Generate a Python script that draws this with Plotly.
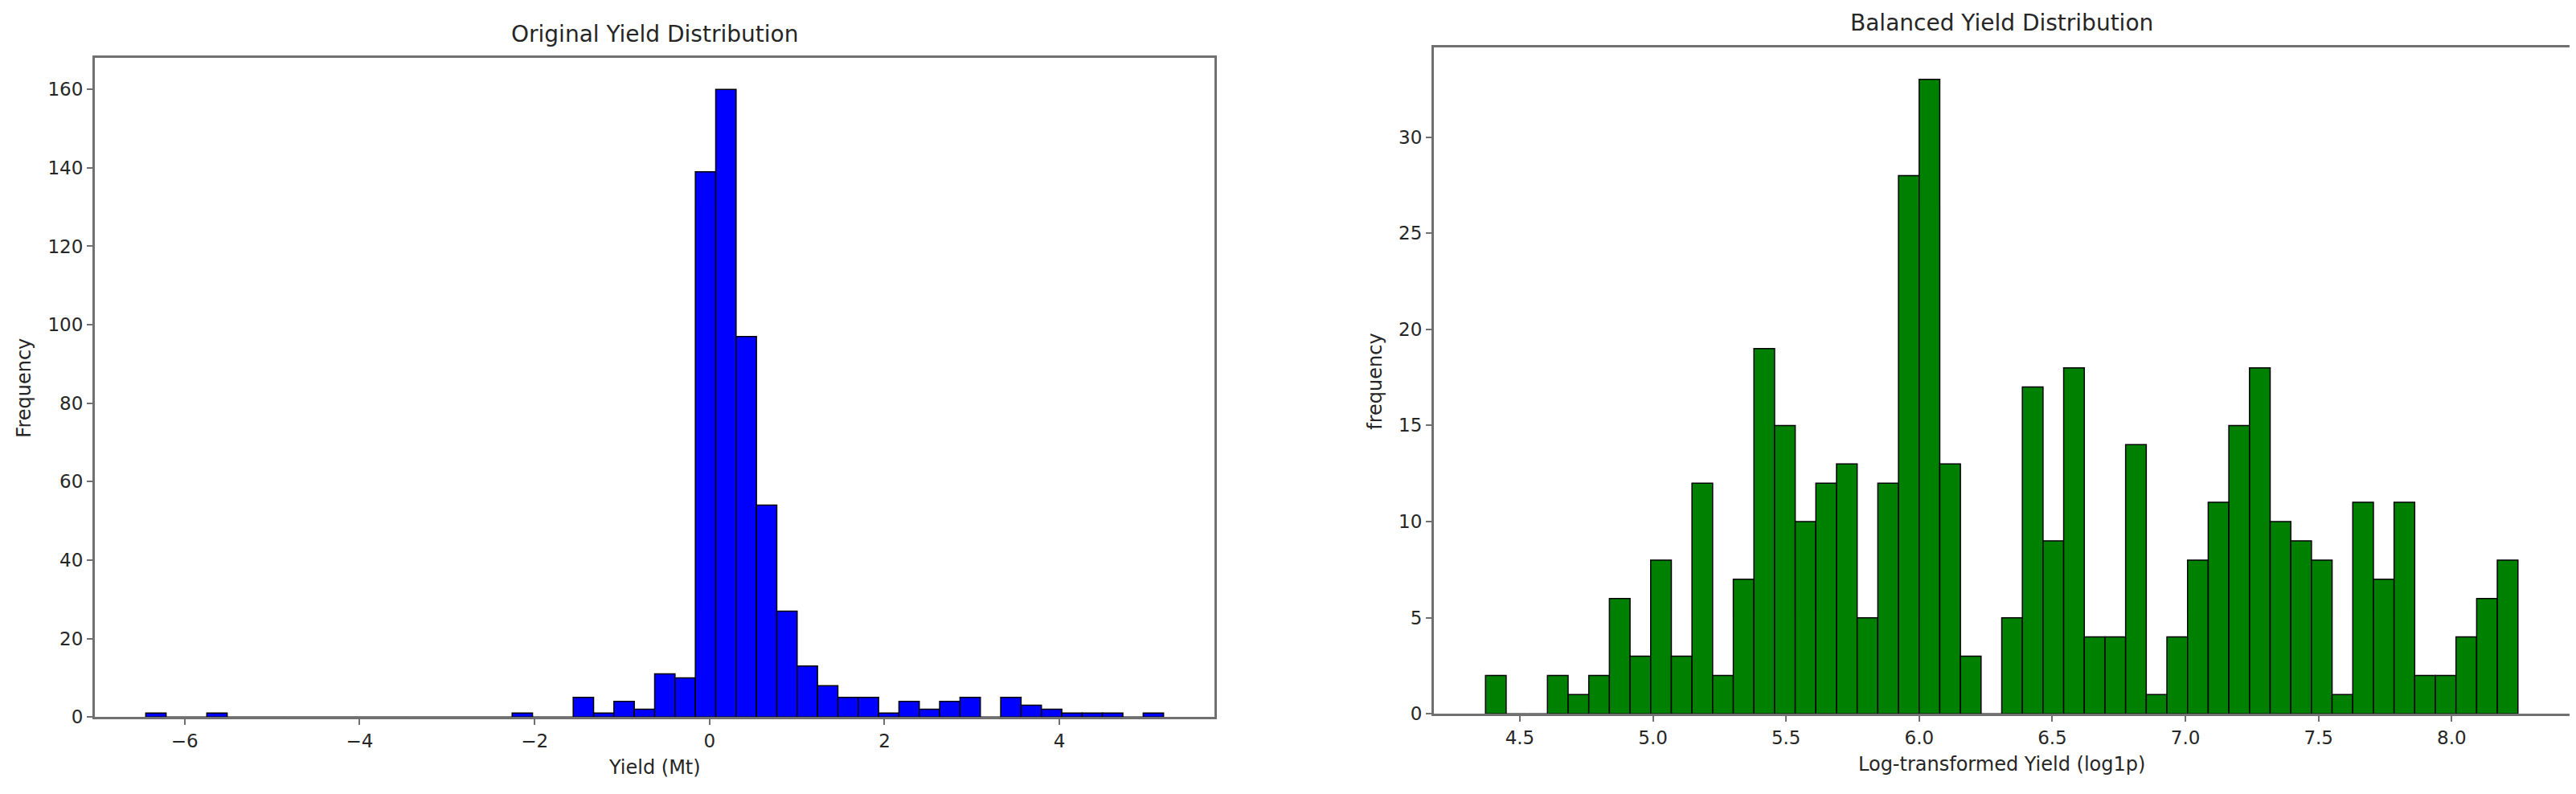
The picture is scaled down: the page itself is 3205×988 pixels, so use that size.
import numpy as np
import plotly.graph_objects as go

# histogram counts (50 bins each)
yield_min = -6.445
yield_max = 5.19
yield_counts = [1, 0, 0, 1, 0, 0, 0, 0, 0, 0, 0, 0, 0, 0, 0, 0, 0, 0, 1, 0,
                0, 5, 1, 4, 2, 11, 10, 139, 160, 97, 54, 27, 13, 8, 5, 5, 1, 4, 2, 4,
                5, 0, 5, 3, 2, 1, 1, 1, 0, 1]

log_min = 4.371
log_max = 8.249
log_counts = [2, 0, 0, 2, 1, 2, 6, 3, 8, 3, 12, 2, 7, 19, 15, 10, 12, 13, 5, 12,
              28, 33, 13, 3, 0, 5, 17, 9, 18, 4, 4, 14, 1, 4, 8, 11, 15, 18, 10, 9,
              8, 1, 11, 7, 11, 2, 2, 4, 6, 8]

left_xticks = [-6, -4, -2, 0, 2, 4]
left_yticks = [0, 20, 40, 60, 80, 100, 120, 140, 160]
right_xticks = [4.5, 5.0, 5.5, 6.0, 6.5, 7.0, 7.5, 8.0]
right_yticks = [0, 5, 10, 15, 20, 25, 30]

W, H = 3205, 988
FONT = 'DejaVu Sans'
TXT = '#262626'
SPINE = '#707070'


def bins(lo, hi, counts):
    edges = np.linspace(lo, hi, len(counts) + 1)
    return (edges[:-1] + edges[1:]) / 2, edges[1] - edges[0]


def px_x(p):
    return p / W


def px_y(p):
    return 1 - p / H


x1, w1 = bins(yield_min, yield_max, yield_counts)
x2, w2 = bins(log_min, log_max, log_counts)

fig = go.Figure()
fig.add_trace(go.Bar(x=x1, y=yield_counts, width=w1, xaxis='x', yaxis='y',
                     marker=dict(color='#0000ff', line=dict(color='black', width=1.5))))
fig.add_trace(go.Bar(x=x2, y=log_counts, width=w2, xaxis='x2', yaxis='y2',
                     marker=dict(color='#008000', line=dict(color='black', width=1.5))))

span1 = yield_max - yield_min
span2 = log_max - log_min

axis_style = dict(showline=True, linecolor=SPINE, linewidth=3, mirror=True,
                  ticks='outside', ticklen=7, tickwidth=2, tickcolor=SPINE,
                  showgrid=False, zeroline=False,
                  tickfont=dict(family=FONT, size=23, color=TXT))

fig.update_layout(
    width=W, height=H,
    margin=dict(l=0, r=0, t=0, b=0),
    paper_bgcolor='white', plot_bgcolor='white',
    showlegend=False,
    font=dict(family=FONT, color=TXT),
    xaxis=dict(domain=[px_x(110), px_x(1503)], anchor='y',
               range=[yield_min - 0.05 * span1, yield_max + 0.05 * span1],
               tickvals=left_xticks, **axis_style),
    yaxis=dict(domain=[px_y(896), px_y(65)], anchor='x',
               range=[0, max(yield_counts) * 1.05],
               tickvals=left_yticks, **axis_style),
    xaxis2=dict(domain=[px_x(1776), px_x(3189)], anchor='y2',
                range=[log_min - 0.05 * span2, log_max + 0.05 * span2],
                tickvals=right_xticks, tickformat='.1f', **axis_style),
    yaxis2=dict(domain=[px_y(892), px_y(52)], anchor='x2',
                range=[0, max(log_counts) * 1.05],
                tickvals=right_yticks, **axis_style),
)

labels = [
    ('Original Yield Distribution', (110 + 1503) / 2, 35, 28, 0),
    ('Balanced Yield Distribution', (1776 + 3189) / 2, 21, 28, 0),
    ('Yield (Mt)', (110 + 1503) / 2, 960, 24, 0),
    ('Log-transformed Yield (log1p)', (1776 + 3189) / 2, 956, 24, 0),
    ('Frequency', 22, 481, 24, -90),
    ('frequency', 1703, 473, 24, -90),
]
for text, x, y, size, angle in labels:
    fig.add_annotation(text=text, x=px_x(x), y=px_y(y), xref='paper', yref='paper',
                       showarrow=False, textangle=angle, xanchor='center', yanchor='middle',
                       font=dict(family=FONT, size=size, color=TXT))

fig.write_html('out.html')
